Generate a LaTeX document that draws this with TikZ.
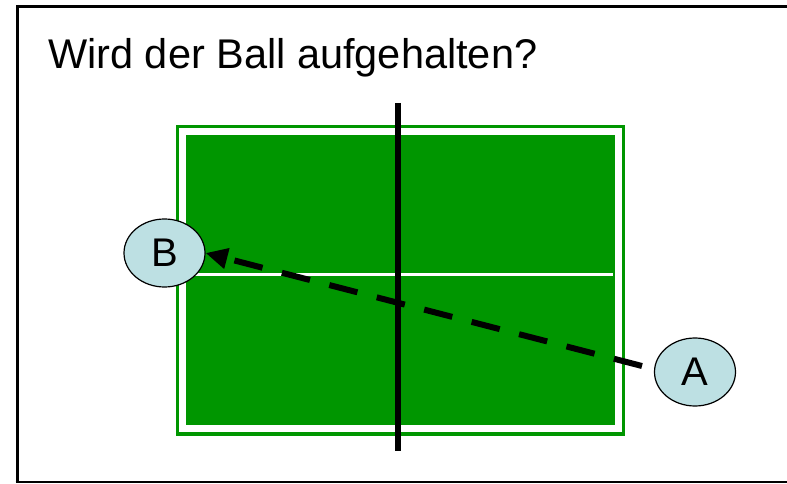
\documentclass[tikz,border=0pt]{standalone}
\usepackage{fontspec}
\setmainfont{Liberation Sans}
\usetikzlibrary{arrows.meta,shapes.geometric}
\definecolor{tablegreen}{RGB}{0,150,0}
\definecolor{ballblue}{RGB}{189,224,227}
\begin{document}
\begin{tikzpicture}[x=1pt,y=-1pt,
  player/.style={ellipse, draw=black, line width=1.2pt, fill=ballblue, minimum width=81pt, minimum height=68pt, inner sep=0pt, font=\fontsize{40}{40}\selectfont},
  flight/.style={line width=6pt, dash pattern=on 29pt off 20pt, -{Triangle[length=22pt,width=20pt]}}]
\useasboundingbox (0,0) rectangle (787,484);
\fill[white] (0,0) rectangle (787,484);
\draw[line width=3pt] (17,6.5) -- (800,6.5);
\draw[line width=3pt] (17,5) -- (17,482);
\draw[line width=2.5pt] (15.5,482) -- (800,482);
\node[anchor=base west, inner sep=0pt, font=\fontsize{41.5}{41.5}\selectfont] (title) at (48,69) {Wird der Ball aufgehalten?};
\draw[tablegreen, line width=3.5pt] (177.5,126.5) rectangle (623.5,434);
\fill[tablegreen] (186,135) rectangle (614.5,425);
\draw[white, line width=2.2pt] (186,274.5) -- (612.5,274.5);
\draw[line width=5.5pt] (398,103) -- (398,451);
\node[player] (B) at (164.5,253) {B};
\node[player] (A) at (695,372) {A};
\coordinate (Aend) at (642,366);
\draw[flight] (Aend) -- (B.east);
\end{tikzpicture}
\end{document}
